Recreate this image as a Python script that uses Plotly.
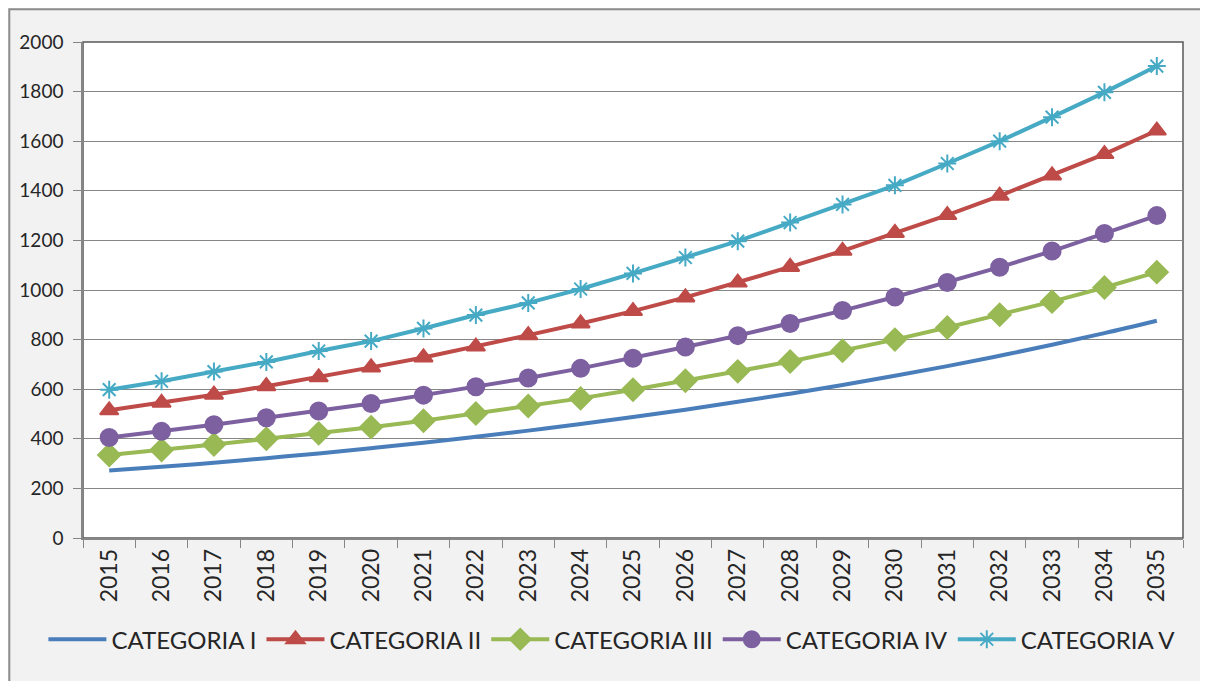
"""
    Category projection 2015-2035
"""

import plotly.graph_objs as go

YEARS = [str(y) for y in range(2015, 2036)]

CAT_I = [272, 287, 303, 322, 341, 362, 384, 408, 433, 460, 488,
         517, 549, 582, 617, 654, 693, 735, 779, 826, 876]
CAT_II = [515, 545, 578, 612, 648, 688, 728, 772, 818, 865, 915,
          970, 1030, 1093, 1158, 1230, 1302, 1380, 1462, 1548, 1643]
CAT_III = [335, 355, 377, 400, 422, 447, 473, 502, 532, 563, 598,
           634, 672, 712, 755, 800, 849, 900, 953, 1010, 1072]
CAT_IV = [405, 430, 457, 485, 512, 542, 576, 610, 645, 684, 725,
          770, 816, 865, 917, 972, 1030, 1092, 1157, 1228, 1300]
CAT_V = [598, 632, 671, 710, 754, 794, 845, 899, 948, 1004, 1067,
         1131, 1197, 1272, 1345, 1422, 1510, 1600, 1697, 1797, 1903]

NAMES = ["CATEGORIA I", "CATEGORIA II", "CATEGORIA III", "CATEGORIA IV", "CATEGORIA V"]
COLORS = ["#4a7ebb", "#be4b48", "#98b954", "#7d60a0", "#46aac5"]

FONT = "Lato, 'Noto Sans', sans-serif"

series = [CAT_I, CAT_II, CAT_III, CAT_IV, CAT_V]
symbols = [None, "triangle-up", "diamond", "circle", "asterisk-open"]
sizes = [0, 16, 17, 17, 15]

data = []
for vals, name, col, sym, sz in zip(series, NAMES, COLORS, symbols, sizes):
    if sym is None:
        data.append(go.Scatter(x=YEARS, y=vals, name=name, mode="lines",
                               line={"color": col, "width": 4, "shape": "spline"}))
    else:
        data.append(go.Scatter(x=YEARS, y=vals, name=name, mode="lines+markers",
                               line={"color": col, "width": 4},
                               marker={"symbol": sym, "size": sz, "color": col,
                                       "line": {"color": col, "width": 2}}))

# page body has an 8px margin, so the figure is 1200x673
layout = go.Layout(
    width=1200, height=673,
    paper_bgcolor="#f2f2f2", plot_bgcolor="white",
    margin={"l": 75, "r": 25, "t": 34, "b": 143},
    font={"family": FONT, "size": 19, "color": "#262626"},
    showlegend=True,
    legend={"orientation": "h", "x": -0.036, "xanchor": "left",
            "y": -0.205, "yanchor": "middle", "bgcolor": "rgba(0,0,0,0)",
            "font": {"size": 24, "color": "#262626"},
            "itemwidth": 58, "tracegroupgap": 0},
    xaxis={"type": "category", "range": [-0.5, len(YEARS) - 0.5],
           "tickangle": -90, "tickson": "boundaries",
           "ticks": "outside", "ticklen": 8, "tickcolor": "#868686",
           "showline": True, "linecolor": "#868686", "linewidth": 1.5,
           "showgrid": False, "tickfont": {"size": 23}},
    yaxis={"range": [0, 2000], "dtick": 200, "ticks": "outside", "ticklen": 8,
           "tickcolor": "#868686", "showline": True, "linecolor": "#868686",
           "linewidth": 1.5, "gridcolor": "#868686", "gridwidth": 1,
           "zeroline": False, "tickfont": {"size": 19}, "ticklabelstandoff": 6},
    shapes=[
        # plot area frame
        {"type": "rect", "xref": "paper", "yref": "paper", "x0": 0, "x1": 1,
         "y0": 0, "y1": 1, "line": {"color": "#595959", "width": 1.5}, "layer": "below"},
        # outer chart frame
        {"type": "rect", "xref": "paper", "yref": "paper",
         "x0": -0.067, "x1": 1.02, "y0": -0.32, "y1": 1.066,
         "line": {"color": "#8c8c8c", "width": 2}, "layer": "below"},
    ],
)

fig = go.Figure(data=data, layout=layout)
fig.write_html("out.html")
